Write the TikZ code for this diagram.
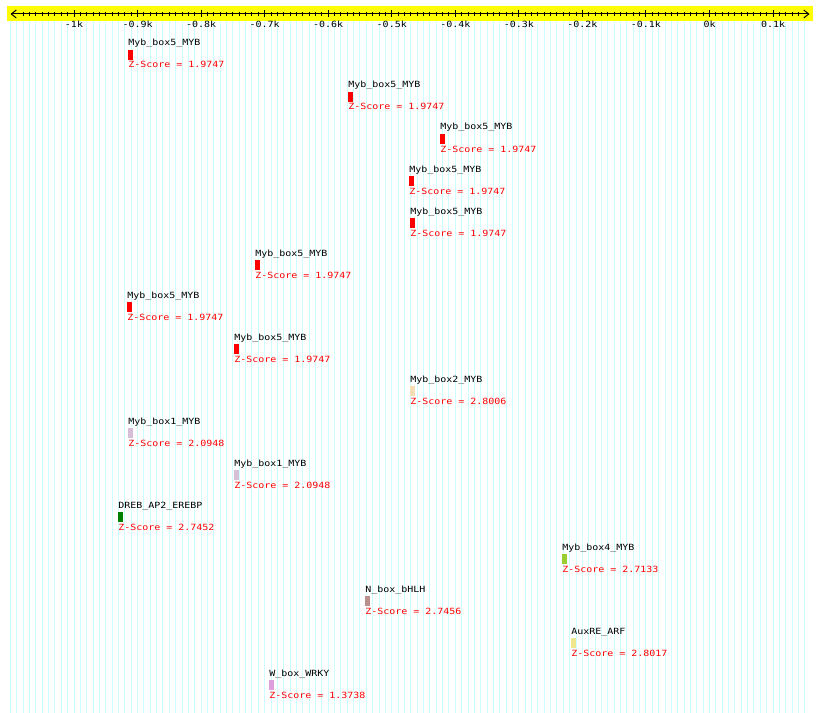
\documentclass[tikz,border=0pt]{standalone}
\usepackage{fontspec}
\newfontfamily\pixmono[FakeStretch=1.17]{DejaVu Sans Mono}
\usetikzlibrary{arrows.meta}
\definecolor{gridcyan}{RGB}{204,255,255}
\definecolor{axyellow}{RGB}{255,255,0}
\definecolor{zred}{RGB}{255,0,0}
\definecolor{fred}{RGB}{255,0,0}
\definecolor{fwheat}{RGB}{245,222,179}
\definecolor{fthistle}{RGB}{216,191,216}
\definecolor{fgreen}{RGB}{0,128,0}
\definecolor{fyellowgreen}{RGB}{154,205,50}
\definecolor{frosy}{RGB}{188,143,143}
\definecolor{fkhaki}{RGB}{240,230,140}
\definecolor{fplum}{RGB}{221,160,221}
\tikzset{
  gridline/.style={draw=gridcyan, line width=0.75pt},
  axisline/.style={draw=black, line width=0.75pt},
  tickline/.style={draw=black, line width=0.75pt},
  ticklabel/.style={font=\pixmono\fontsize{6.4pt}{7pt}\selectfont, text=black, inner sep=0pt, anchor=base},
  featbox/.style={draw=none, inner sep=0pt, minimum width=3.6pt, minimum height=7.5pt, anchor=north west},
  featlabel/.style={font=\pixmono\fontsize{6.4pt}{7pt}\selectfont, text=black, inner sep=0pt, anchor=base west},
  scorelabel/.style={font=\pixmono\fontsize{6.4pt}{7pt}\selectfont, text=zred, inner sep=0pt, anchor=base west}
}
\begin{document}
\begin{tikzpicture}[x=0.75pt,y=-0.75pt]
\useasboundingbox (0,0) rectangle (820,713);
\fill[white] (0,0) rectangle (820,713);
% background grid
\foreach \v in {-1100,-1090,...,150} {
  \draw[gridline] ({709.5+0.6355*\v},21) -- ({709.5+0.6355*\v},713);
}
% axis band
\fill[axyellow] (7,6.5) rectangle (813,20.7);
\coordinate (axL) at (10.5,14);
\coordinate (axR) at (809.5,14);
\draw[axisline, {Straight Barb[length=3.75pt,width=6pt]}-{Straight Barb[length=3.75pt,width=6pt]}] (axL) -- (axR);
\foreach \v in {-1080,-1070,...,140} {
  \draw[tickline] ({709.5+0.6355*\v},12) -- ({709.5+0.6355*\v},16);
}
\foreach \v/\t in {-1000/-1k,-900/-0.9k,-800/-0.8k,-700/-0.7k,-600/-0.6k,-500/-0.5k,-400/-0.4k,-300/-0.3k,-200/-0.2k,-100/-0.1k,0/0k,100/0.1k} {
  \draw[tickline] ({709.5+0.6355*\v},10.5) -- ({709.5+0.6355*\v},17.5);
  \node[ticklabel] (t\v) at ({709.5+0.6355*\v},27.5) {\t};
}
% features
\foreach \i/\x/\c/\n/\s in {
  1/128/fred/Myb\_box5\_MYB/1.9747,
  2/348/fred/Myb\_box5\_MYB/1.9747,
  3/440/fred/Myb\_box5\_MYB/1.9747,
  4/409/fred/Myb\_box5\_MYB/1.9747,
  5/410/fred/Myb\_box5\_MYB/1.9747,
  6/255/fred/Myb\_box5\_MYB/1.9747,
  7/127/fred/Myb\_box5\_MYB/1.9747,
  8/234/fred/Myb\_box5\_MYB/1.9747,
  9/410/fwheat/Myb\_box2\_MYB/2.8006,
  10/128/fthistle/Myb\_box1\_MYB/2.0948,
  11/234/fthistle/Myb\_box1\_MYB/2.0948,
  12/118/fgreen/DREB\_AP2\_EREBP/2.7452,
  13/562/fyellowgreen/Myb\_box4\_MYB/2.7133,
  14/365/frosy/N\_box\_bHLH/2.7456,
  15/571/fkhaki/AuxRE\_ARF/2.8017,
  16/269/fplum/W\_box\_WRKY/1.3738} {
  \node[featlabel] (l\i) at (\x,{46+42*(\i-1)}) {\n};
  \node[featbox, fill=\c] (b\i) at (\x,{49.3+42*(\i-1)}) {};
  \node[scorelabel] (s\i) at (\x,{68+42*(\i-1)}) {Z-Score = \s};
}
\end{tikzpicture}
\end{document}
